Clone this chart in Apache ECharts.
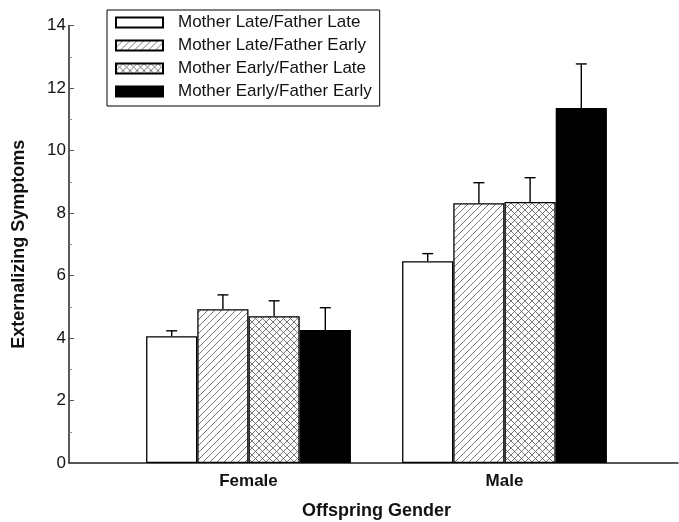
<!DOCTYPE html>
<html>
<head>
<meta charset="utf-8">
<script src="https://cdn.jsdelivr.net/npm/echarts@6/dist/echarts.min.js"></script>
<style>html,body{margin:0;padding:0;background:#fff;}#c{width:679px;height:522px;}</style>
</head>
<body>
<div id="c"></div>
<script>
// ---- data ----
var categories = ['Female', 'Male'];
var seriesNames = ['Mother Late/Father Late', 'Mother Late/Father Early', 'Mother Early/Father Late', 'Mother Early/Father Early'];
var lateLate   = [4.06, 6.46];
var lateEarly  = [4.92, 8.31];
var earlyLate  = [4.70, 8.35];
var earlyEarly = [4.26, 11.36];
var errLateLate   = [0.17, 0.24];
var errLateEarly  = [0.46, 0.66];
var errEarlyLate  = [0.49, 0.78];
var errEarlyEarly = [0.71, 1.41];
var yTicks = [0, 2, 4, 6, 8, 10, 12, 14];

var means = [lateLate, lateEarly, earlyLate, earlyEarly];
var errs = [errLateLate, errLateEarly, errEarlyLate, errEarlyEarly];

function makePattern(kind) {
  var s = 7;
  var c = document.createElement('canvas');
  c.width = s; c.height = s;
  var g = c.getContext('2d');
  g.fillStyle = '#fff';
  g.fillRect(0, 0, s, s);
  g.strokeStyle = '#555';
  g.lineWidth = 0.8;
  function ln(x1, y1, x2, y2) { g.beginPath(); g.moveTo(x1, y1); g.lineTo(x2, y2); g.stroke(); }
  ln(-1, s + 1, s + 1, -1);
  ln(-1, 1, 1, -1);
  ln(s - 1, s + 1, s + 1, s - 1);
  if (kind === 'cross') {
    ln(-1, -1, s + 1, s + 1);
    ln(s - 1, -1, s + 1, 1);
    ln(-1, s - 1, 1, s + 1);
  }
  return { image: c, repeat: 'repeat' };
}

var fills = ['#ffffff', makePattern('diag'), makePattern('cross'), '#000000'];
var font = "'Liberation Sans', Arial, sans-serif";

var series = [];
for (var k = 0; k < 4; k++) {
  series.push({
    name: seriesNames[k],
    type: 'bar',
    xAxisIndex: 0, yAxisIndex: 0,
    data: means[k],
    barGap: '0%',
    barCategoryGap: '20%',
    itemStyle: { color: fills[k], borderColor: '#000', borderWidth: 1.3 },
    emphasis: { disabled: true },
    z: 2
  });
}
for (var k2 = 0; k2 < 4; k2++) {
  (function (k) {
    var d = [];
    for (var i = 0; i < categories.length; i++) d.push([i, means[k][i], means[k][i] + errs[k][i]]);
    series.push({
      name: 'err' + k,
      type: 'custom',
      xAxisIndex: 0, yAxisIndex: 0,
      data: d,
      z: 3,
      silent: true,
      renderItem: function (params, api) {
        var cat = api.value(0);
        var p0 = api.coord([cat, api.value(1)]);
        var p1 = api.coord([cat, api.value(2)]);
        var band = api.size([1, 0])[0];
        var bw = band * 0.8 / 4;
        var x = p0[0] + (k - 1.5) * bw;
        var style = { stroke: '#000', lineWidth: 1.4 };
        return {
          type: 'group',
          children: [
            { type: 'line', shape: { x1: x, y1: p0[1], x2: x, y2: p1[1] }, style: style },
            { type: 'line', shape: { x1: x - 5.5, y1: p1[1], x2: x + 5.5, y2: p1[1] }, style: style }
          ]
        };
      }
    });
  })(k2);
}

var chart = echarts.init(document.getElementById('c'), null, { renderer: 'canvas' });
chart.setOption({
  backgroundColor: '#fff',
  animation: false,
  textStyle: { fontFamily: font },
  grid: [
    { left: 120.5, right: 46.5, top: 25.5, bottom: 59, containLabel: false, outerBoundsMode: 'none' },
    { left: 69, right: 1, top: 25.5, bottom: 59, containLabel: false, outerBoundsMode: 'none' }
  ],
  legend: {
    data: seriesNames,
    orient: 'vertical',
    left: 107,
    top: 10,
    padding: [4, 8, 6, 8],
    icon: 'rect',
    itemWidth: 47,
    itemHeight: 10,
    itemGap: 6,
    borderColor: '#000',
    borderWidth: 1,
    backgroundColor: '#fff',
    selectedMode: false,
    textStyle: { fontFamily: font, fontSize: 17, color: '#111', padding: [0, 0, 0, 10] }
  },
  xAxis: [
    {
      gridIndex: 0, type: 'category', data: categories,
      axisLine: { show: false }, axisTick: { show: false },
      axisLabel: { fontFamily: font, fontWeight: 'bold', fontSize: 17, color: '#111', margin: 10 },
      name: 'Offspring Gender', nameLocation: 'middle', nameGap: 39,
      nameTextStyle: { fontFamily: font, fontWeight: 'bold', fontSize: 18, color: '#111' }
    },
    {
      gridIndex: 1, type: 'value', min: 0, max: 1,
      axisLine: { show: true, lineStyle: { color: '#222', width: 1.5 } },
      axisTick: { show: false }, axisLabel: { show: false }, splitLine: { show: false }
    }
  ],
  yAxis: [
    { gridIndex: 0, type: 'value', min: 0, max: 14, show: false, splitLine: { show: false } },
    {
      gridIndex: 1, type: 'value', min: yTicks[0], max: yTicks[yTicks.length - 1], interval: 2,
      axisLine: { show: true, lineStyle: { color: '#222', width: 1.5 } },
      axisTick: { show: true, inside: true, length: 5, lineStyle: { color: '#555', width: 1 } },
      minorTick: { show: true, splitNumber: 2, length: 3, lineStyle: { color: '#888', width: 1 } },
      splitLine: { show: false },
      axisLabel: { fontFamily: font, fontSize: 17, color: '#111', margin: 3 },
      name: 'Externalizing Symptoms', nameLocation: 'middle', nameGap: 41, nameRotate: 90,
      nameTextStyle: { fontFamily: font, fontWeight: 'bold', fontSize: 18, color: '#111' }
    }
  ],
  series: series
});
</script>
</body>
</html>
